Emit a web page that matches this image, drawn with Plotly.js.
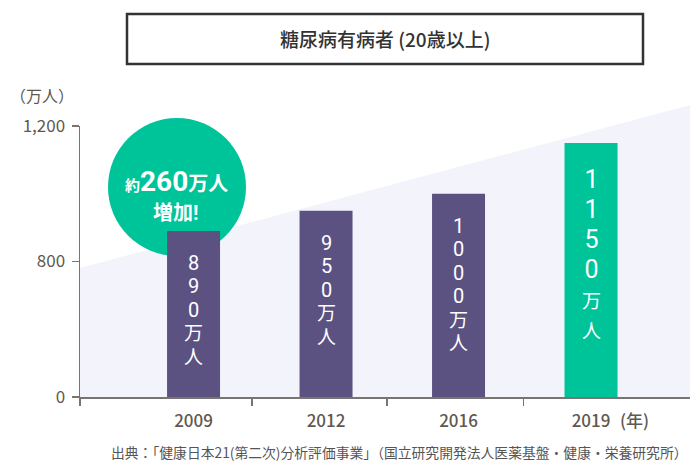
<!DOCTYPE html>
<html>
<head>
<meta charset="utf-8">
<script src="https://cdn.plot.ly/plotly-3.0.1.min.js"></script>
<style>
  html, body { margin: 0; padding: 0; background: #fff; }
  #chart { width: 700px; height: 468px; }
</style>
</head>
<body>
<div id="chart"></div>
<script>
// Data
const years = ['2009', '2012', '2016', '2019'];
const patients = [890, 950, 1000, 1150];            // 万人
const yTickVals = [400, 800, 1200];                 // broken axis: bottom shown as 0
const yTickText = ['0', '800', '1,200'];
const chartTitle = '糖尿病有病者 (20歳以上)';
const unitLabel = '（万人）';
const yearSuffix = '(年)';
const badgeLine1 = '約260万人';
const badgeLine2 = '増加!';
const sourceNote = '出典：「健康日本21(第二次)分析評価事業」（国立研究開発法人医薬基盤・健康・栄養研究所）';

const FONT = '"Noto Sans CJK JP", "Noto Sans", sans-serif';
// Roboto first keeps line boxes compact for stacked labels; CJK glyphs fall back
const TIGHT = 'Roboto, "Noto Sans CJK JP", sans-serif';
const PURPLE = '#5b5282';
const GREEN = '#00c499';
const GREY = '#5f5850';

// plot area in pixels, used to place decorations in paper coords
const W = 700, H = 468;
const M = { l: 80, r: 10, t: 126, b: 71 };
const px = x => (x - M.l) / (W - M.l - M.r);
const py = y => (H - M.b - y) / (H - M.t - M.b);

const barColors = patients.map((_, i) => i === patients.length - 1 ? GREEN : PURPLE);
const xPos = years.map((_, i) => i);

function note(x, y, text, font, extra = {}) {
  return Object.assign({
    xref: 'paper', yref: 'paper', x: px(x), y: py(y),
    xanchor: 'center', yanchor: 'middle',
    text, showarrow: false, font: Object.assign({ family: FONT }, font)
  }, extra);
}

// value label stacked vertically, one character per line, inside the bar
function barLabel(i) {
  const highlight = i === patients.length - 1;
  const digits = String(patients[i]).split('');
  const digitSize = highlight ? 25 : 20;
  const unitSize = 19;
  const lines = [
    ...digits.map(d => `<span style="font-size:${digitSize}px">${d}</span>`),
    `<span style="font-size:${unitSize}px">万</span>`,
    `<span style="font-size:${unitSize}px">人</span>`
  ];
  return {
    x: i, y: patients[i], xref: 'x', yref: 'y',
    text: lines.join('<br>'), showarrow: false,
    xanchor: 'center', yanchor: 'top', yshift: highlight ? -20 : -18,
    font: { family: TIGHT, color: '#fff', size: highlight ? 23 : 18 }
  };
}

const traces = [{
  type: 'bar',
  x: xPos,
  y: patients,
  width: 0.4,
  marker: { color: barColors },
  hoverinfo: 'skip'
}];

const shapes = [
  // light rising band behind the bars
  {
    type: 'path', xref: 'paper', yref: 'paper', layer: 'below',
    path: `M 0 0 L 0 ${py(268)} L 1 ${py(105)} L 1 0 Z`,
    fillcolor: '#f3f4fb', line: { width: 0 }
  },
  // green badge
  {
    type: 'circle', xref: 'paper', yref: 'paper', layer: 'below',
    xsizemode: 'pixel', ysizemode: 'pixel',
    xanchor: px(177), yanchor: py(187),
    x0: -69, x1: 69, y0: -69, y1: 69,
    fillcolor: GREEN, line: { width: 0 }
  },
  // title frame
  {
    type: 'rect', xref: 'paper', yref: 'paper',
    x0: px(127), x1: px(643), y0: py(64), y1: py(14),
    line: { color: '#333', width: 2.5 }, fillcolor: 'rgba(0,0,0,0)'
  }
];

const annotations = [
  note(385, 39, chartTitle, { size: 19, color: '#333', weight: 500 }),
  note(42, 95, unitLabel, { size: 16, color: GREY }),
  note(176, 181,
    `<b><span style="font-size:15px">${badgeLine1.slice(0, 1)}</span>${badgeLine1.slice(1, 4)}<span style="font-size:20px">${badgeLine1.slice(4)}</span></b>`,
    { family: TIGHT, size: 28, color: '#fff' }),
  note(175, 213, `<b>${badgeLine2}</b>`, { family: TIGHT, size: 20, color: '#fff' }),
  note(0, 419, yearSuffix, { size: 17, color: GREY, weight: 500 },
    { xref: 'x', x: xPos[xPos.length - 1], xshift: 43 }),
  note(399, 452, sourceNote, { size: 13.8, color: '#555' }),
  ...patients.map((_, i) => barLabel(i))
];

const layout = {
  width: W,
  height: H,
  margin: M,
  paper_bgcolor: '#fff',
  plot_bgcolor: 'rgba(0,0,0,0)',
  showlegend: false,
  font: { family: FONT, color: GREY },
  xaxis: {
    range: [-0.857, 3.747],
    tickmode: 'array',
    tickvals: xPos,
    ticktext: years,
    ticks: '',
    ticklabelstandoff: 8,
    showgrid: false,
    zeroline: false,
    showline: true,
    linecolor: '#7a7470',
    linewidth: 1.5,
    tickfont: { family: FONT, size: 17, color: GREY, weight: 500 },
    minor: {
      tickmode: 'array',
      tickvals: [-0.857, 0.44, 1.46, 2.49],
      ticks: 'outside',
      ticklen: 7,
      tickwidth: 1.5,
      tickcolor: '#7a7470',
      showgrid: false
    },
    fixedrange: true
  },
  yaxis: {
    range: [400, 1200],
    tickmode: 'array',
    tickvals: yTickVals,
    ticktext: yTickText,
    ticks: 'outside',
    ticklen: 7,
    tickwidth: 1.5,
    tickcolor: '#7a7470',
    ticklabelstandoff: 3,
    showgrid: false,
    zeroline: false,
    showline: true,
    linecolor: '#7a7470',
    linewidth: 1.5,
    tickfont: { family: FONT, size: 17, color: GREY },
    fixedrange: true
  },
  shapes,
  annotations
};

Plotly.newPlot('chart', traces, layout, { displayModeBar: false, staticPlot: true });
</script>
</body>
</html>
